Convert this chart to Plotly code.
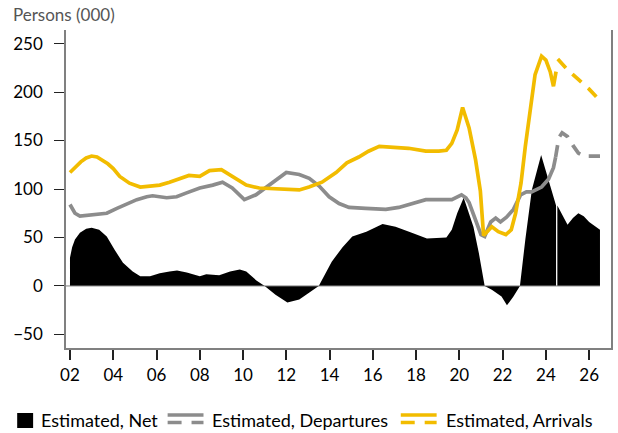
import plotly.graph_objects as go

# ---------------- data ----------------
arr_x = [2002.0, 2002.25, 2002.5, 2002.75, 2003.0, 2003.25, 2003.5, 2003.75, 2004.0, 2004.3,
         2004.75, 2005.25, 2005.7, 2006.15, 2006.6, 2007.05, 2007.5, 2008.0, 2008.45, 2009.0,
         2009.5, 2010.15, 2010.75, 2011.7, 2012.6, 2013.05, 2013.65, 2014.3, 2014.8, 2015.35,
         2015.8, 2016.3, 2016.9, 2017.65, 2018.45, 2019.05, 2019.4, 2019.65, 2019.9, 2020.15,
         2020.45, 2020.75, 2020.97, 2021.12, 2021.5, 2021.8, 2022.15, 2022.4, 2022.6, 2022.85,
         2023.05, 2023.3, 2023.5, 2023.8, 2024.0, 2024.2, 2024.35, 2024.47]
arr_y = [117, 123, 128, 132, 134, 133, 130, 126, 121, 113,
         106, 102, 103, 104, 107, 111, 114, 113, 119, 120,
         113, 104, 101, 100, 99, 102, 107, 117, 127, 133,
         139, 144, 143, 142, 139, 139, 140, 147, 161, 184,
         163, 130, 98, 52, 61, 56, 53, 58, 75, 106,
         144, 185, 218, 237, 233, 221, 206, 221]

arr_fx = [2024.55, 2025.0, 2025.5, 2026.0, 2026.5]
arr_fy = [234, 223, 213, 203, 191]

dep_x = [2002.0, 2002.23, 2002.46, 2002.92, 2003.38, 2003.7, 2004.17, 2004.63, 2005.09, 2005.55,
         2005.82, 2006.47, 2006.93, 2007.39, 2008.0, 2008.6, 2009.05, 2009.5, 2010.06, 2010.6,
         2011.22, 2012.0, 2012.6, 2013.06, 2013.52, 2013.98, 2014.44, 2014.9, 2015.67, 2016.6,
         2017.2, 2017.8, 2018.45, 2019.05, 2019.65, 2020.1, 2020.3, 2020.45, 2020.75, 2021.0,
         2021.17, 2021.45, 2021.68, 2021.9, 2022.18, 2022.5, 2022.83, 2023.1, 2023.34, 2023.8,
         2024.12, 2024.35, 2024.45]
dep_y = [84, 75, 72, 73, 74, 75, 80, 85, 89, 92,
         93, 91, 92, 96, 101, 104, 107, 101, 89, 94,
         104, 117, 115, 111, 103, 92, 85, 81, 80, 79,
         81, 85, 89, 89, 89, 94, 91, 86, 68, 53,
         51, 66, 70, 66, 71, 79, 94, 97, 97, 102,
         110, 122, 133]

dep_fx = [2024.45, 2024.6, 2024.75, 2025.0, 2025.25, 2025.5, 2025.75, 2026.0, 2026.5]
dep_fy = [133, 153, 158, 154, 145, 137, 134, 134, 134]

net_x = [2002.0, 2002.1, 2002.23, 2002.46, 2002.75, 2003.0, 2003.35, 2003.7, 2004.07, 2004.45,
         2004.9, 2005.25, 2005.7, 2006.15, 2006.6, 2006.95, 2007.4, 2008.0, 2008.3, 2008.9,
         2009.4, 2009.85, 2010.15, 2010.6, 2011.0, 2011.5, 2012.05, 2012.6, 2013.05, 2013.5,
         2014.1, 2014.6, 2015.05, 2015.7, 2016.45, 2017.05, 2017.8, 2018.5, 2019.4, 2019.65,
         2019.9, 2020.2, 2020.65, 2020.9, 2021.17, 2021.5, 2021.95, 2022.2, 2022.5, 2022.8,
         2023.05, 2023.35, 2023.78, 2024.12, 2024.47]
net_y = [29, 40, 48, 55, 59, 60, 58, 51, 37, 24,
         15, 10, 10, 13, 15, 16, 14, 10, 12, 11,
         15, 17, 15, 6, 0, -9, -17, -14, -7, 0,
         25, 40, 51, 56, 64, 61, 55, 49, 50, 58,
         75, 91, 61, 34, 0, -4, -11, -20, -11, 0,
         48, 99, 135, 110, 83]

net_fx = [2024.53, 2024.8, 2025.0, 2025.25, 2025.5, 2025.75, 2026.0, 2026.5]
net_fy = [83, 71, 63, 70, 75, 72, 66, 58]

x_tickvals = [2002, 2004, 2006, 2008, 2010, 2012, 2014, 2016, 2018, 2020, 2022, 2024, 2026]
x_ticktext = ["02", "04", "06", "08", "10", "12", "14", "16", "18", "20", "22", "24", "26"]
y_tickvals = [-50, 0, 50, 100, 150, 200, 250]

legend_labels = ["Estimated, Net", "Estimated, Departures", "Estimated, Arrivals"]

# ---------------- styles ----------------
W, H = 618, 433
ML, MR, MT, MB = 66, 5, 30, 85
YELLOW = "#F2BC00"
GREY = "#8C8C8C"
AXIS = "#808080"
FONT = "Lato"

def px(xp):
    return (xp - ML) / (W - ML - MR)

def py(yp):
    return (H - MB - yp) / (H - MT - MB)

fig = go.Figure()

fig.add_trace(go.Scatter(x=net_x, y=net_y, mode="lines", fill="tozeroy",
                         line=dict(width=0, color="black"), fillcolor="black",
                         showlegend=False, hoverinfo="skip"))
fig.add_trace(go.Scatter(x=net_fx, y=net_fy, mode="lines", fill="tozeroy",
                         line=dict(width=0, color="black"), fillcolor="black",
                         showlegend=False, hoverinfo="skip"))

fig.add_trace(go.Scatter(x=dep_x, y=dep_y, mode="lines",
                         line=dict(width=3.7, color=GREY), showlegend=False))
fig.add_trace(go.Scatter(x=dep_fx, y=dep_fy, mode="lines",
                         line=dict(width=3.7, color=GREY, dash="12px,9px"), showlegend=False))
fig.add_trace(go.Scatter(x=arr_x, y=arr_y, mode="lines",
                         line=dict(width=3.7, color=YELLOW), showlegend=False))
fig.add_trace(go.Scatter(x=arr_fx, y=arr_fy, mode="lines",
                         line=dict(width=3.7, color=YELLOW, dash="12px,9px"), showlegend=False))

shapes = []
# zero line drawn above the net area
shapes.append(dict(type="line", xref="x", yref="y", x0=2001.8, x1=max(net_fx), y0=0, y1=0,
                   line=dict(color=AXIS, width=1), layer="above"))

# manual legend
shapes.append(dict(type="rect", xref="paper", yref="paper",
                   x0=px(17), x1=px(33), y0=py(428), y1=py(413),
                   fillcolor="black", line=dict(width=0)))
for col, x0 in [(GREY, 168), (YELLOW, 402)]:
    shapes.append(dict(type="line", xref="paper", yref="paper",
                       x0=px(x0), x1=px(x0 + 36), y0=py(415), y1=py(415),
                       line=dict(color=col, width=3.5)))
    shapes.append(dict(type="line", xref="paper", yref="paper",
                       x0=px(x0), x1=px(x0 + 14), y0=py(422.5), y1=py(422.5),
                       line=dict(color=col, width=3.5)))
    shapes.append(dict(type="line", xref="paper", yref="paper",
                       x0=px(x0 + 24), x1=px(x0 + 36), y0=py(422.5), y1=py(422.5),
                       line=dict(color=col, width=3.5)))

annotations = [
    dict(text="Persons (000)", xref="paper", yref="paper", x=px(11), y=py(15),
         xanchor="left", yanchor="middle", showarrow=False,
         font=dict(family=FONT, size=17, color="#555555")),
]
for label, xl in zip(legend_labels, [39, 211, 445]):
    annotations.append(dict(text=label, xref="paper", yref="paper", x=px(xl), y=py(420),
                            xanchor="left", yanchor="middle", showarrow=False,
                            font=dict(family=FONT, size=18, color="black")))

fig.update_layout(
    width=W, height=H,
    margin=dict(l=ML, r=MR, t=MT, b=MB, pad=0),
    paper_bgcolor="white", plot_bgcolor="white",
    font=dict(family=FONT, size=16, color="black"),
    showlegend=False,
    shapes=shapes,
    annotations=annotations,
    xaxis=dict(range=[2001.816, 2027.01], tickvals=x_tickvals, ticktext=x_ticktext,
               showgrid=False, zeroline=False, showline=True, linecolor=AXIS, linewidth=1.5,
               ticks="outside", ticklen=10, tickwidth=1.5, tickcolor="#222222",
               tickfont=dict(family=FONT, size=17, color="black"), mirror=False,
               ticklabelstandoff=1),
    yaxis=dict(range=[-64, 264], tickvals=y_tickvals,
               showgrid=False, zeroline=False, showline=True, linecolor=AXIS, linewidth=1.5,
               ticks="outside", ticklen=10, tickwidth=1, tickcolor="#222222",
               tickfont=dict(family=FONT, size=17, color="black"), mirror=True,
               ticklabelstandoff=8),
)

fig.write_html("out.html", config={"displayModeBar": False},
               post_script="document.body.style.margin='0';document.body.style.overflow='hidden';")
